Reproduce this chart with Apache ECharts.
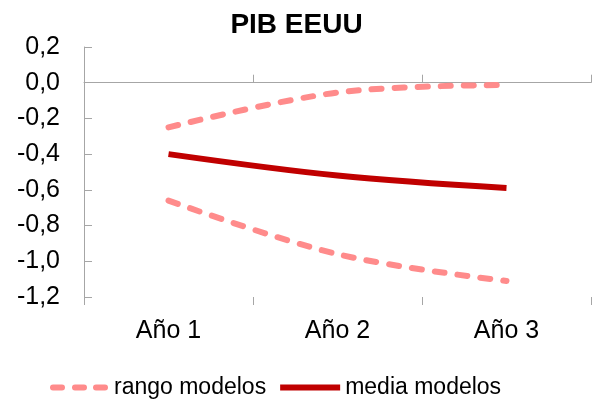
<!DOCTYPE html>
<html><head><meta charset="utf-8">
<script src="https://cdn.jsdelivr.net/npm/echarts@6/dist/echarts.min.js"></script>
<style>html,body{margin:0;padding:0;background:#fff}#c{width:593px;height:404px}</style>
</head><body><div id="c"></div>
<script>
var categories = ['Año 1', 'Año 2', 'Año 3'];
var rangoSuperior = [-0.25, -0.055, -0.013];
var rangoInferior = [-0.66, -0.96, -1.11];
var mediaModelos = [-0.40, -0.52, -0.59];
var yTicks = {min: -1.2, max: 0.2, interval: 0.2};

var chart = echarts.init(document.getElementById('c'));
var font = 'Liberation Sans, Arial, Helvetica, sans-serif';
var axisGray = '#a6a6a6';
var dashColor = '#ff8b8b';
var solidColor = '#c00000';
var dashStyle = {color: dashColor, width: 6, type: [10, 13], cap: 'round'};
var dashIcon = 'path://M3,0h9a3,3 0 0 1 0,6h-9a3,3 0 0 1 0,-6z' +
  'M25,0h9a3,3 0 0 1 0,6h-9a3,3 0 0 1 0,-6z' +
  'M46,0h9a3,3 0 0 1 0,6h-9a3,3 0 0 1 0,-6z';
chart.setOption({
  animation: false,
  title: {text: 'PIB EEUU', left: 'center', top: 6,
    textStyle: {fontFamily: font, fontSize: 28, fontWeight: 'bold', color: '#000'}},
  grid: {left: 84, right: 2, top: 47, bottom: 107, containLabel: false},
  legend: {
    bottom: 0, left: 45, itemWidth: 60, itemHeight: 6, itemGap: 14,
    itemStyle: {borderWidth: 0},
    textStyle: {fontFamily: font, fontSize: 23, color: '#000'},
    data: [{name: 'rango modelos', icon: dashIcon}, {name: 'media modelos', icon: 'rect'}]
  },
  xAxis: [
    {type: 'category', data: categories, position: 'bottom',
     axisLine: {show: false, onZero: false}, axisTick: {show: false},
     axisLabel: {fontFamily: font, fontSize: 25, color: '#000', margin: 22}},
    {type: 'category', data: categories, position: 'bottom',
     axisLine: {show: true, onZero: true, lineStyle: {color: axisGray, width: 1}},
     axisTick: {show: true, inside: true, length: 8, lineStyle: {color: axisGray}},
     axisLabel: {show: false}},
    {type: 'category', data: categories, position: 'bottom',
     axisLine: {show: false, onZero: true},
     axisTick: {show: true, inside: false, length: 8, lineStyle: {color: axisGray}},
     axisLabel: {show: false}}
  ],
  yAxis: {
    type: 'value', min: yTicks.min, max: yTicks.max, interval: yTicks.interval,
    axisLine: {show: true, lineStyle: {color: axisGray}},
    axisTick: {show: true, inside: true, length: 8, lineStyle: {color: axisGray}},
    splitLine: {show: false},
    axisLabel: {fontFamily: font, fontSize: 25, color: '#000', margin: 24,
      formatter: function (v) { return v.toFixed(1).replace('.', ','); }}
  },
  series: [
    {name: 'rango modelos', type: 'line', data: rangoSuperior, smooth: 0.35,
     symbol: 'none', lineStyle: dashStyle, itemStyle: {color: dashColor}, z: 2},
    {name: 'rango modelos', type: 'line', data: rangoInferior, smooth: 0.35,
     symbol: 'none', lineStyle: dashStyle, itemStyle: {color: dashColor}, z: 2},
    {name: 'media modelos', type: 'line', data: mediaModelos, smooth: 0.35,
     symbol: 'none', lineStyle: {color: solidColor, width: 6}, itemStyle: {color: solidColor}, z: 3}
  ]
});
</script></body></html>
